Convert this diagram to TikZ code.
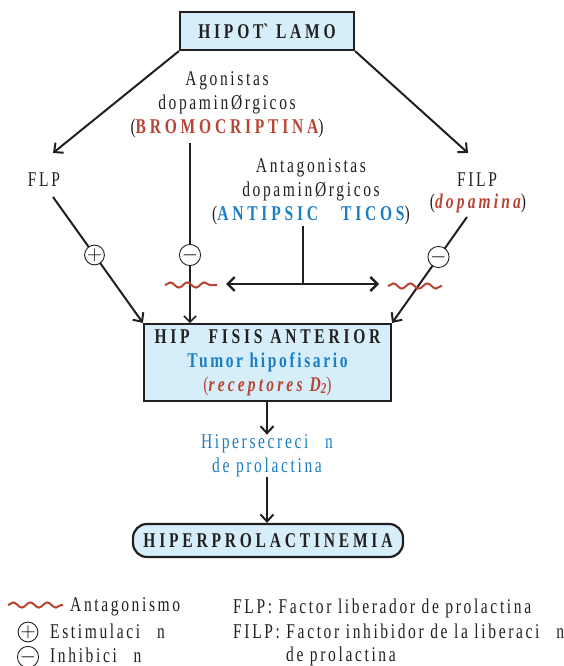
\documentclass[tikz,border=0pt]{standalone}
\usepackage{fontspec}
\setmainfont{Liberation Serif}[FakeStretch=0.74, LetterSpace=12.5]
\newfontfamily\rawfont{Liberation Serif}[FakeStretch=0.74, LetterSpace=18]
\newcommand\bsp{\bfseries\addfontfeature{LetterSpace=18}}
\newcommand\bisp{\bfseries\itshape\addfontfeature{LetterSpace=15}}
\usetikzlibrary{arrows.meta,decorations.pathmorphing}
\definecolor{ink}{HTML}{231F20}
\definecolor{boxfill}{HTML}{D6EEF9}
\definecolor{dred}{HTML}{B84433}
\definecolor{dblue}{HTML}{1B7DC3}
\tikzset{
  txt/.style={font=\fontsize{21}{24}\selectfont, align=center, inner sep=0pt, text=ink},
  bigbox/.style={draw=ink, line width=2.2pt, fill=boxfill, inner sep=0pt, font=\fontsize{21}{24}\selectfont, align=center, text=ink},
  arr/.style={draw=ink, line width=2pt, -{Straight Barb[length=7pt,width=13pt,line width=2pt]}},
  thinarr/.style={draw=ink, line width=1.5pt, -{Straight Barb[length=6pt,width=12pt,line width=1.5pt]}},
  sgn/.style={circle, draw=ink, fill=white, line width=0.9pt, minimum size=19pt, inner sep=0pt, font=\fontsize{21}{21}\selectfont},
  wave/.style={draw=dred, line width=2pt, decorate, decoration={snake, amplitude=2.6pt, segment length=17pt}},
}
\begin{document}
\begin{tikzpicture}[x=1pt,y=-1pt]
\useasboundingbox (0,0) rectangle (564,666);

% boxes
\node[bigbox, minimum width=174pt, minimum height=38pt] (hipot) at (267,31) {\bsp HIPOT{\rawfont\bfseries `}\hspace{0.35em}LAMO};
\node[bigbox, minimum width=247pt, minimum height=77pt] (hipo) at (267.5,362.5)
  {{\bsp HIP\hspace{0.9em}FISIS ANTERIOR}\\
   \textcolor{dblue}{\bfseries Tumor hipofisario}\\
   \textcolor{dred}{({\bisp receptores D}\raisebox{-2pt}{\fontsize{15}{15}\selectfont\bisp 2})}};
\node[bigbox, rounded corners=14pt, minimum width=270pt, minimum height=33pt] (hpl) at (268,540.5) {\bsp HIPERPROLACTINEMIA};

% texts
\node[txt] (ago) at (227,105) {Agonistas\\dopaminØrgicos\\(\textcolor{dred}{\bsp BROMOCRIPTINA})};
\node[txt] (anta) at (311,192) {Antagonistas\\dopaminØrgicos\\(\textcolor{dblue}{\bsp ANTIPSIC\hspace{1.1em}TICOS})};
\node[txt] (flp) at (44,180) {FLP};
\node[txt] (filp) at (477,180) {FILP};
\node[txt] (dopa) at (478,203) {(\textcolor{dred}{\bisp dopamina})};
\node[txt] (hiper) at (267,456) {\textcolor{dblue}{Hipersecreci\hspace{0.8em}n}\\\textcolor{dblue}{de prolactina}};

% coordinates
\coordinate (flptip) at (53,153);
\coordinate (filptip) at (468,153);
\coordinate (flps) at (53,197);
\coordinate (agos) at (190,143);
\coordinate (filps) at (467,217);
\coordinate (antas) at (303,226);
\coordinate (antaj) at (303,284);
\coordinate (antl) at (226,284);
\coordinate (antr) at (379,284);

% top arrows
\draw[arr] (hipot.south west) -- (flptip);
\draw[arr] (hipot.south east) -- (filptip);

% FLP stimulation
\draw[arr] (flps) -- (hipo.north west);
\node[sgn] (s1) at (94.5,255) {$+$};
% agonist inhibition
\draw[thinarr] (agos) -- (190,323);
\node[sgn] (s2) at (190,255) {$-$};
% FILP inhibition
\draw[arr] (filps) -- (hipo.north east);
\node[sgn] (s3) at (438.5,257) {$-$};
% antagonists
\draw[draw=ink, line width=2pt] (antas) -- (antaj);
\draw[draw=ink, line width=2.4pt, {Straight Barb[length=7pt,width=14pt,line width=2.4pt]}-{Straight Barb[length=7pt,width=14pt,line width=2.4pt]}] (antl) -- (antr);
\draw[wave] (165,285) -- (217,285);
\draw[wave] (388,286) -- (442,286);

% down arrows
\draw[arr, line width=2.4pt] (hipo.south -| hiper.north) -- (hiper.north);
\draw[arr, line width=2.4pt] (hiper.south) -- (hpl.north -| hiper.south);

% legend
\draw[wave] (8,605) -- (63,605);
\node[txt, anchor=base west] (lant) at (70,611) {Antagonismo};
\node[sgn] (lpl) at (28,632) {$+$};
\node[txt, anchor=base west] (lest) at (50,638) {Estimulaci\hspace{0.8em}n};
\node[sgn] (lmi) at (28,657) {$-$};
\node[txt, anchor=base west] (linh) at (50,662) {Inhibici\hspace{0.8em}n};
\node[txt, anchor=base west] (lflp) at (233,613) {FLP: Factor liberador de prolactina};
\node[txt, anchor=base west] (lfilp) at (233,638) {FILP: Factor inhibidor de la liberaci\hspace{0.8em}n};
\node[txt, anchor=base west] (lfilp2) at (286,661) {de prolactina};
\end{tikzpicture}
\end{document}
